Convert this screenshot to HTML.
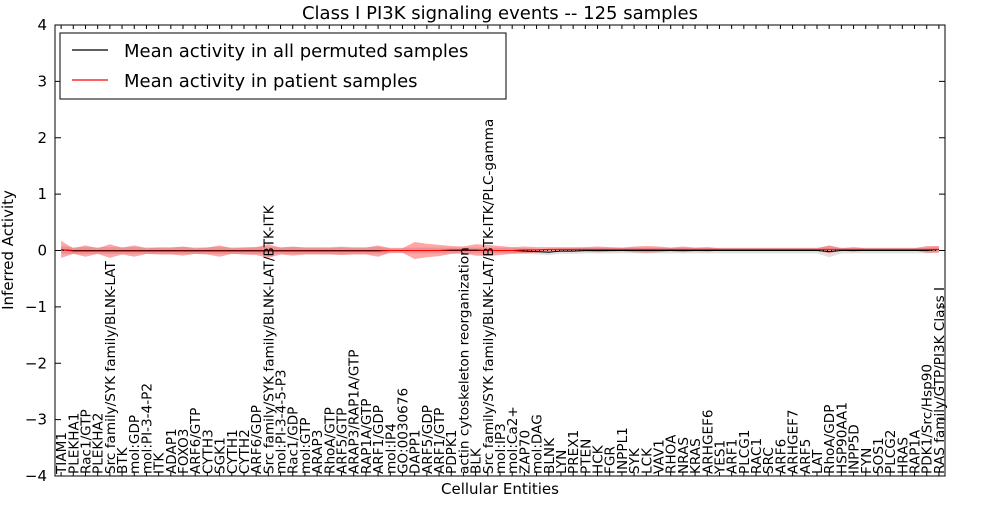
<!DOCTYPE html>
<html><head><meta charset="utf-8"><style>
body{margin:0;background:#fff;}
svg text{font-family:"DejaVu Sans","Liberation Sans",sans-serif;}
</style></head><body>
<svg id="chart" width="1000" height="500" xmlns="http://www.w3.org/2000/svg">
<rect width="1000" height="500" fill="#fff"/>
<text x="500" y="19" text-anchor="middle" font-size="18">Class I PI3K signaling events -- 125 samples</text>
<g id="bands"></g>
<g id="lines"></g>
<g id="xlabels"></g>
<g id="yaxis"></g>
<rect x="55" y="25" width="890" height="451" fill="none" stroke="#000" stroke-width="1"/>
<text x="500" y="494" text-anchor="middle" font-size="15">Cellular Entities</text>
<text transform="translate(13,250) rotate(-90)" text-anchor="middle" font-size="15">Inferred Activity</text>
<g>
<rect x="60" y="33" width="446" height="66" fill="#fff" stroke="#000" stroke-width="1"/>
<line x1="72" y1="50" x2="108" y2="50" stroke="#000" stroke-width="1.2"/>
<text x="124" y="57" font-size="18">Mean activity in all permuted samples</text>
<line x1="72" y1="80" x2="108" y2="80" stroke="#f00" stroke-width="1.2"/>
<text x="124" y="87" font-size="18">Mean activity in patient samples</text>
</g>
</svg>
<script>
const categories=["TIAM1","PLEKHA1","Rac1/GTP","PLEKHA2","Src family/SYK family/BLNK-LAT","BTK","mol:GDP","mol:PI-3-4-P2","ITK","ADAP1","FOXO3","ARF6/GTP","CYTH3","SGK1","CYTH1","CYTH2","ARF6/GDP","Src family/SYK family/BLNK-LAT/BTK-ITK","mol:PI-3-4-5-P3","Rac1/GDP","mol:GTP","ARAP3","RhoA/GTP","ARF5/GTP","ARAP3/RAP1A/GTP","RAP1A/GTP","ARF1/GDP","mol:IP4","GO:0030676","DAPP1","ARF5/GDP","ARF1/GTP","PDPK1","actin cytoskeleton reorganization","BLK","Src family/SYK family/BLNK-LAT/BTK-ITK/PLC-gamma","mol:IP3","mol:Ca2+","ZAP70","mol:DAG","BLNK","LYN","PREX1","PTEN","HCK","FGR","INPPL1","SYK","LCK","VAV1","RHOA","NRAS","KRAS","ARHGEF6","YES1","ARF1","PLCG1","RAC1","SRC","ARF6","ARHGEF7","ARF5","LAT","RhoA/GDP","HSP90AA1","INPP5D","FYN","SOS1","PLCG2","HRAS","RAP1A","PDK1/Src/Hsp90","RAS family/GTP/PI3K Class I"];
const patientMean=[0.02,-0.01,-0.01,-0.01,-0.01,-0.01,-0.01,-0.01,-0.01,-0.01,-0.01,-0.01,-0.01,-0.01,-0.01,-0.01,-0.01,-0.01,-0.01,-0.01,-0.01,-0.01,-0.01,-0.01,-0.01,-0.01,-0.01,0,0,0,0,0,0.01,0.01,0.01,0,0,0,0.01,0.01,0.02,0.02,0.02,0.02,0.02,0.02,0.02,0.02,0.02,0.02,0.02,0.02,0.02,0.02,0.02,0.02,0.02,0.02,0.02,0.02,0.02,0.02,0.02,0.02,0.02,0.02,0.02,0.02,0.02,0.02,0.02,0.02,0.02];
const patientSd=[0.15,0.05,0.1,0.05,0.12,0.06,0.1,0.05,0.06,0.06,0.08,0.05,0.06,0.1,0.05,0.06,0.07,0.12,0.06,0.08,0.06,0.06,0.06,0.07,0.06,0.06,0.1,0.04,0.04,0.15,0.12,0.1,0.07,0.06,0.1,0.1,0.08,0.06,0.06,0.05,0.04,0.04,0.04,0.04,0.05,0.04,0.03,0.05,0.06,0.05,0.03,0.05,0.03,0.04,0.02,0.02,0.02,0.02,0.02,0.02,0.02,0.02,0.02,0.07,0.02,0.04,0.02,0.02,0.02,0.02,0.02,0.06,0.06];
const permMean=[0.01,0,0,0,0,0,0,0,0,0,0,0,0,0,0,0,0,0,0,0,0,0,0,0,0,0,0,0,0,0,0,0,0,0,0,0,0,0,-0.01,-0.02,-0.03,-0.01,-0.01,0,0,0,0,0,0,0,0,0,0,0,0,0,0,0,0,0,0,0,0,-0.02,0,0,0,0,0,0,0,0,0.02];
const permSd=[0.07,0.06,0.06,0.06,0.06,0.06,0.06,0.06,0.06,0.06,0.06,0.06,0.06,0.06,0.06,0.06,0.06,0.06,0.06,0.06,0.06,0.06,0.06,0.07,0.06,0.06,0.06,0.05,0.05,0.05,0.05,0.05,0.05,0.05,0.05,0.05,0.05,0.05,0.05,0.05,0.05,0.05,0.05,0.05,0.05,0.05,0.05,0.05,0.05,0.05,0.05,0.05,0.05,0.05,0.05,0.05,0.05,0.05,0.05,0.05,0.05,0.05,0.05,0.1,0.05,0.05,0.05,0.05,0.05,0.05,0.05,0.05,0.05];
const yTicks=[4,3,2,1,0,-1,-2,-3,-4];
const NS="http://www.w3.org/2000/svg";
const X0=55,X1=945,Y0=25,Y1=476,YMIN=-4,YMAX=4;
const n=categories.length;
function xs(i){return X0+(i+0.5)*(X1-X0)/n;}
function ys(v){return Y1-(v-YMIN)/(YMAX-YMIN)*(Y1-Y0);}
function mk(tag,attrs,parent){const e=document.createElementNS(NS,tag);for(const k in attrs)e.setAttribute(k,attrs[k]);parent.appendChild(e);return e;}
function bandPath(m,s){let d="";for(let i=0;i<n;i++)d+=(i?"L":"M")+xs(i)+","+ys(m[i]+s[i]);for(let i=n-1;i>=0;i--)d+="L"+xs(i)+","+ys(m[i]-s[i]);return d+"Z";}
function linePath(m){let d="";for(let i=0;i<n;i++)d+=(i?"L":"M")+xs(i)+","+ys(m[i]);return d;}
const bands=document.getElementById("bands"),lines=document.getElementById("lines"),xl=document.getElementById("xlabels"),ya=document.getElementById("yaxis");
const gb=mk("path",{d:bandPath(permMean,permSd),fill:"#bbb","fill-opacity":"0.45",stroke:"none"},bands);


const rb=mk("path",{d:bandPath(patientMean,patientSd),fill:"#f00","fill-opacity":"0.35",stroke:"none"},bands);


const zl=mk("line",{x1:X0,x2:X1,y1:ys(0),y2:ys(0),stroke:"#000","stroke-dasharray":"1,3","stroke-width":"1"},lines);


const bl=mk("path",{d:linePath(permMean),fill:"none",stroke:"#000","stroke-width":"1"},lines);


const rl=mk("path",{d:linePath(patientMean),fill:"none",stroke:"#f00","stroke-width":"1"},lines);


for(let i=0;i<n;i++){
 const x=xs(i);
 mk("line",{x1:x,x2:x,y1:Y1,y2:Y1-4,stroke:"#000"},xl);
 mk("line",{x1:x,x2:x,y1:Y0,y2:Y0+4,stroke:"#000"},xl);
 const t=mk("text",{transform:"translate("+(x+5)+","+(Y1-2)+") rotate(-90)","font-size":"13.6"},xl);
 t.textContent=categories[i];
 
 
}
yTicks.forEach(v=>{
 const y=ys(v);
 mk("line",{x1:X0,x2:X0+6,y1:y,y2:y,stroke:"#000"},ya);
 mk("line",{x1:X1,x2:X1-6,y1:y,y2:y,stroke:"#000"},ya);
 const t=mk("text",{x:X0-8,y:y+5,"text-anchor":"end","font-size":"15"},ya);
 t.textContent=v<0?"\u2212"+(-v):String(v);
 
 
});
</script>
</body></html>
